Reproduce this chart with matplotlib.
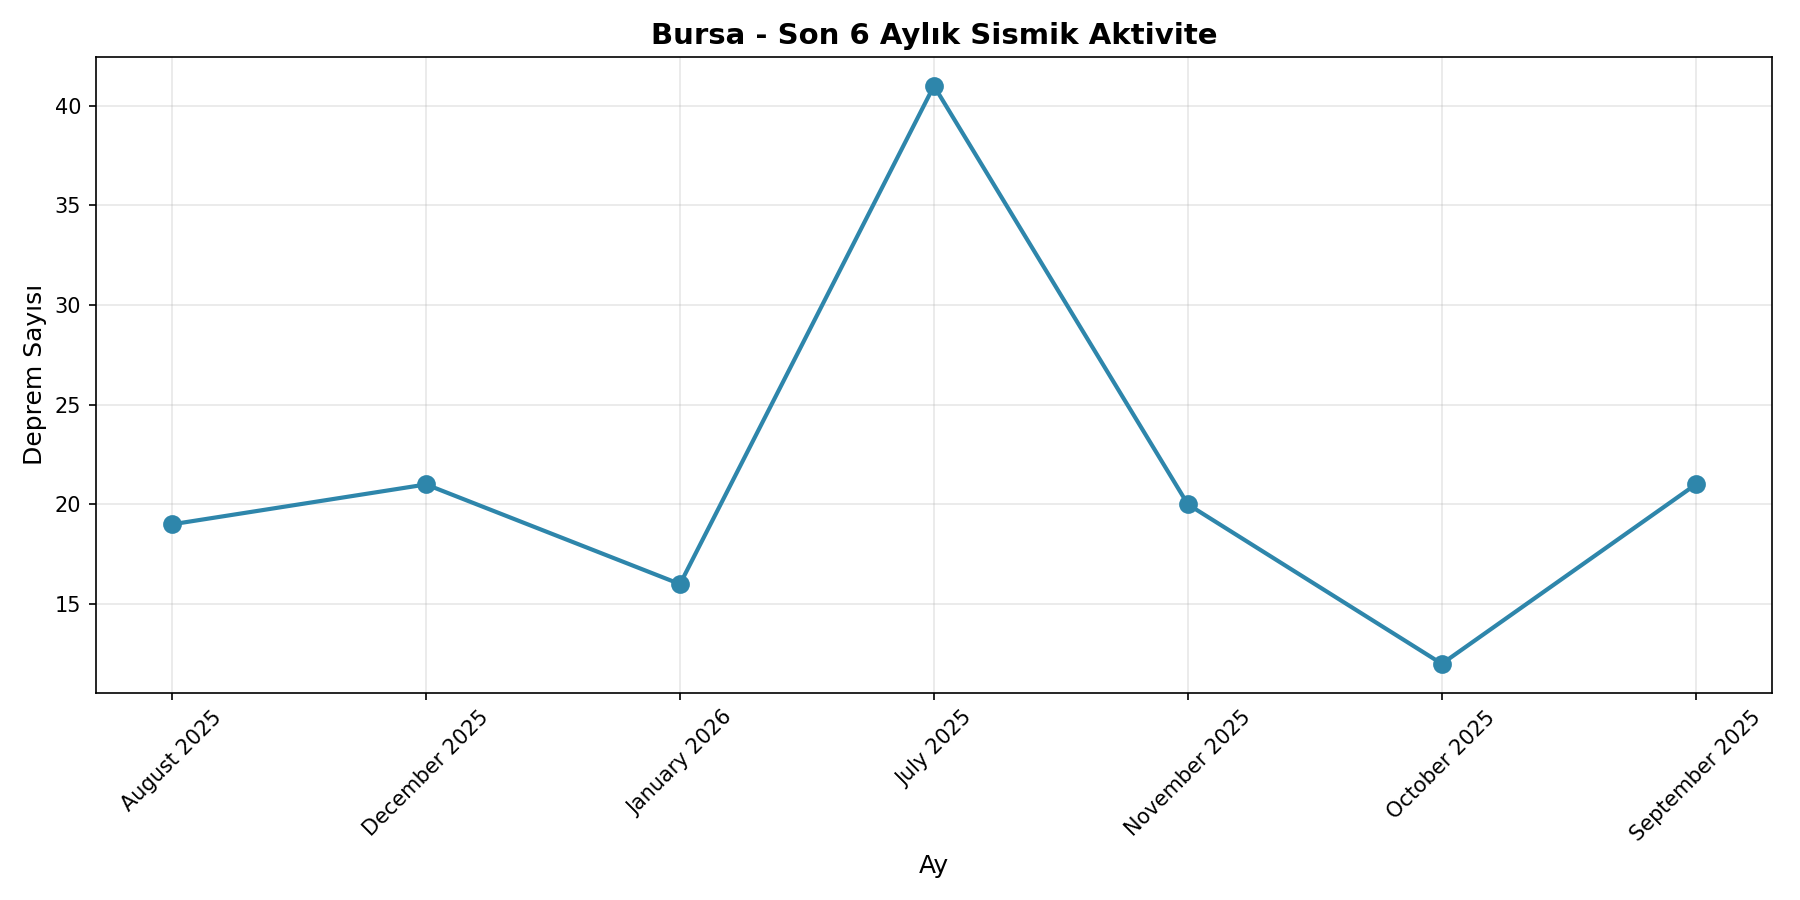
import matplotlib
matplotlib.use("Agg")
import matplotlib.pyplot as plt

months = ["August 2025", "December 2025", "January 2026", "July 2025",
          "November 2025", "October 2025", "September 2025"]
counts = [19, 21, 16, 41, 20, 12, 21]

fig, ax = plt.subplots(figsize=(12, 6), dpi=150)
ax.plot(months, counts, marker="o", linewidth=2, markersize=8, color="#2E86AB")
ax.set_title("Bursa - Son 6 Aylık Sismik Aktivite", fontsize=14, fontweight="bold")
ax.set_xlabel("Ay", fontsize=12)
ax.set_ylabel("Deprem Sayısı", fontsize=12)
ax.grid(True, alpha=0.3)
plt.setp(ax.get_xticklabels(), rotation=45)
fig.tight_layout()
fig.savefig("out.png", dpi=150)
